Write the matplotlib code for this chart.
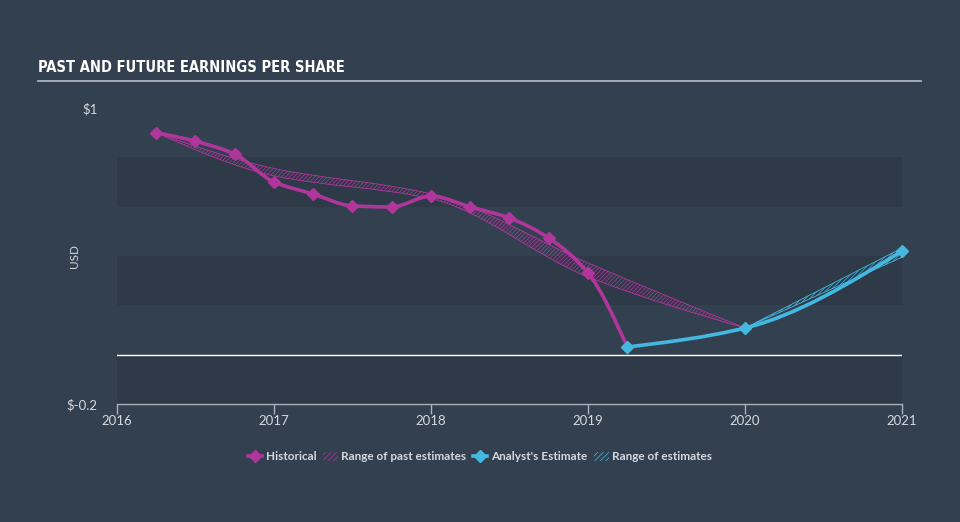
import numpy as np
import matplotlib
matplotlib.use("Agg")
import matplotlib.pyplot as plt
from matplotlib.path import Path
from matplotlib.patches import PathPatch, Patch
from matplotlib.lines import Line2D

# historical EPS (USD)
hist_x = [2016.25, 2016.5, 2016.75, 2017.0, 2017.25, 2017.5, 2017.75,
          2018.0, 2018.25, 2018.5, 2018.75, 2019.0, 2019.25]
hist_y = [0.90, 0.865, 0.813, 0.70, 0.651, 0.603, 0.599,
          0.643, 0.599, 0.554, 0.473, 0.331, 0.031]

# analyst estimate
est_x = [2019.25, 2020.0, 2021.0]
est_y = [0.031, 0.108, 0.42]

# range of past estimates
past_x = [2016.25, 2017.0, 2018.0, 2019.0, 2020.0]
past_lo = [0.90, 0.725, 0.632, 0.315, 0.108]
past_hi = [0.90, 0.755, 0.652, 0.372, 0.108]

# range of estimates
rng_x = [2020.0, 2021.0]
rng_lo = [0.108, 0.395]
rng_hi = [0.108, 0.432]

years = [2016, 2017, 2018, 2019, 2020, 2021]

BG = "#334050"
BAND = "#2e3a48"
MAGENTA = "#b0369c"
CYAN = "#43b9e2"
TXT = "#d5d9de"


def tangents(xs, ys):
    xs = np.asarray(xs, float)
    ys = np.asarray(ys, float)
    d = np.diff(ys) / np.diff(xs)
    m = np.zeros(len(xs))
    for i in range(1, len(xs) - 1):
        if d[i - 1] * d[i] <= 0:
            m[i] = 0
        else:
            m[i] = 2 / (1 / d[i - 1] + 1 / d[i])
    if len(xs) > 2:
        m[0] = (3 * d[0] - m[1]) / 2
        m[-1] = (3 * d[-1] - m[-2]) / 2
    else:
        m[0] = m[-1] = d[0]
    return m


def curve_verts(xs, ys):
    # monotone cubic as bezier segments
    m = tangents(xs, ys)
    verts = [(xs[0], ys[0])]
    for i in range(len(xs) - 1):
        h = xs[i + 1] - xs[i]
        verts.append((xs[i] + h / 3, ys[i] + m[i] * h / 3))
        verts.append((xs[i + 1] - h / 3, ys[i + 1] - m[i + 1] * h / 3))
        verts.append((xs[i + 1], ys[i + 1]))
    return verts


def smooth_line(ax, xs, ys, color, lw):
    verts = curve_verts(xs, ys)
    codes = [Path.MOVETO] + [Path.CURVE4] * (len(verts) - 1)
    ax.add_patch(PathPatch(Path(verts, codes), facecolor="none",
                           edgecolor=color, lw=lw, capstyle="round",
                           joinstyle="round", zorder=4))


def smooth_band(ax, xs, lo, hi, color):
    up = curve_verts(xs, hi)
    dn = curve_verts(xs[::-1], lo[::-1])
    verts = up + [dn[0]] + dn[1:] + [up[0]]
    codes = ([Path.MOVETO] + [Path.CURVE4] * (len(up) - 1) + [Path.LINETO]
             + [Path.CURVE4] * (len(dn) - 1) + [Path.CLOSEPOLY])
    ax.add_patch(PathPatch(Path(verts, codes), facecolor="none",
                           edgecolor=color, lw=0.6, hatch="////////", zorder=3))


plt.rcParams["hatch.linewidth"] = 0.5
plt.rcParams["font.family"] = ["Lato", "DejaVu Sans"]

fig = plt.figure(figsize=(9.6, 5.22), dpi=100, facecolor=BG)
ax = fig.add_axes([117 / 960, 1 - 404 / 522, 785 / 960, 296 / 522])
ax.set_facecolor(BG)
ax.set_xlim(2016, 2021)
ax.set_ylim(-0.2, 1.0)

for lo_b in [-0.2, 0.2, 0.6]:
    ax.axhspan(lo_b, lo_b + 0.2, color=BAND, lw=0, zorder=0)
ax.axhline(0, color="white", lw=1.0, zorder=2)

for s in ["top", "right", "left"]:
    ax.spines[s].set_visible(False)
ax.spines["bottom"].set_color("#aab3bd")
ax.spines["bottom"].set_linewidth(1.0)

ax.set_xticks(years)
ax.set_xticklabels([str(y) for y in years])
ax.tick_params(axis="x", colors="#aab3bd", length=7, width=1, pad=1,
               labelcolor=TXT, labelsize=9.5)
ax.set_yticks([-0.2, 1.0])
ax.set_yticklabels(["$-0.2", "$1"])
ax.tick_params(axis="y", length=0, pad=14, labelcolor=TXT, labelsize=9.5)
ax.set_ylabel("USD", color=TXT, fontsize=8.5)
ax.yaxis.set_label_coords(-(117 - 80) / 785, 0.5)

smooth_band(ax, past_x, past_lo, past_hi, MAGENTA)
smooth_band(ax, rng_x, rng_lo, rng_hi, CYAN)
smooth_line(ax, hist_x, hist_y, MAGENTA, 2.6)
smooth_line(ax, est_x, est_y, CYAN, 2.6)
ax.plot(hist_x, hist_y, "D", color=MAGENTA, ms=6.5, zorder=5, clip_on=False)
ax.plot(est_x, est_y, "D", color=CYAN, ms=6.5, zorder=5, clip_on=False)

# title and rule
fig.text(38 / 960, 1 - 68 / 522, "PAST AND FUTURE EARNINGS PER SHARE",
         color="white", fontsize=10.5, fontweight="bold",
         family="DejaVu Sans", fontstretch="condensed", va="center")
fig.add_artist(Line2D([38 / 960, 921 / 960], [1 - 81 / 522, 1 - 81 / 522],
                      color="#b8bec6", lw=1.2))

handles = [
    Line2D([], [], color=MAGENTA, lw=2.6, marker="D", ms=6.5),
    Patch(facecolor="none", edgecolor=MAGENTA, hatch="//////", lw=0),
    Line2D([], [], color=CYAN, lw=2.6, marker="D", ms=6.5),
    Patch(facecolor="none", edgecolor=CYAN, hatch="//////", lw=0),
]
labels = ["Historical", "Range of past estimates", "Analyst's Estimate",
          "Range of estimates"]
leg = fig.legend(handles, labels, loc="center", ncol=4,
                 bbox_to_anchor=(0.5, 1 - 457 / 522), frameon=False,
                 prop={"size": 8.5, "weight": "bold"}, handlelength=1.2,
                 handletextpad=0.3, columnspacing=0.6)
for t in leg.get_texts():
    t.set_color(TXT)

fig.savefig("out.png", dpi=100, facecolor=BG)
